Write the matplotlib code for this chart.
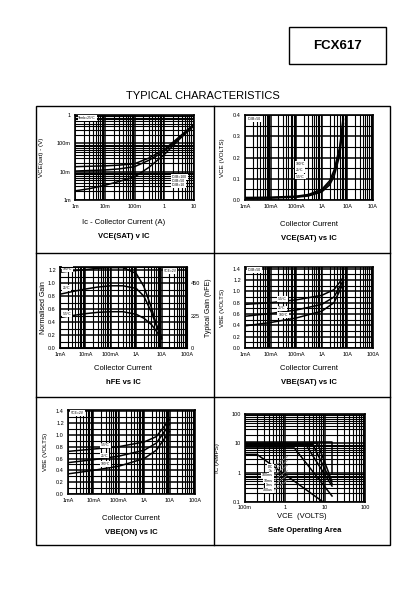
import matplotlib
matplotlib.use("Agg")
import matplotlib.pyplot as plt
from matplotlib.ticker import LogLocator, MultipleLocator, FixedLocator, NullFormatter
from matplotlib.lines import Line2D

plt.rcParams['font.family'] = ['Liberation Sans', 'DejaVu Sans']

W, H = 420, 595

# --- data ---
# VCE(SAT) v IC (log-log)
ic1 = [1e-3, 3e-3, 1e-2, 3e-2, 0.1, 0.3, 1, 3, 10]
vce1_100 = [15e-3, 15.5e-3, 16e-3, 17e-3, 19e-3, 30e-3, 60e-3, 160e-3, 480e-3]
vce1_50 = [10.5e-3, 11e-3, 11.5e-3, 12.5e-3, 15e-3, 25e-3, 52e-3, 145e-3, 450e-3]
vce1_10 = [2.1e-3, 2.5e-3, 3.3e-3, 4.5e-3, 6.5e-3, 14e-3, 40e-3, 130e-3, 420e-3]
labels1 = ["IC/IB=100", "IC/IB=50", "IC/IB=10"]

# VCE(SAT) vs IC (linear y)
ic2 = [1e-3, 1e-2, 0.1, 0.3, 1, 2, 3, 5, 7]
vce2_100 = [0.012, 0.013, 0.018, 0.026, 0.05, 0.09, 0.14, 0.25, 0.40]
vce2_25 = [0.010, 0.011, 0.015, 0.022, 0.044, 0.08, 0.125, 0.23, 0.38]
vce2_m55 = [0.008, 0.009, 0.013, 0.019, 0.038, 0.07, 0.11, 0.21, 0.36]
labels2 = ["100°C", "25°C", "-55°C"]

# hFE vs IC (normalised gain)
ic3 = [1e-3, 3e-3, 1e-2, 3e-2, 0.1, 0.3, 1, 2, 4, 6, 10]
hfe_100 = [1.17, 1.19, 1.21, 1.23, 1.24, 1.24, 1.15, 0.95, 0.62, 0.38, 0.15]
hfe_25 = [0.83, 0.87, 0.91, 0.94, 0.96, 0.96, 0.92, 0.80, 0.55, 0.36, 0.17]
hfe_m55 = [0.47, 0.50, 0.53, 0.55, 0.56, 0.56, 0.52, 0.46, 0.36, 0.27, 0.14]
labels3 = ["100°C", "25°C", "-55°C"]

# VBE(SAT) vs IC
ic4 = [1e-3, 1e-2, 0.1, 1, 3, 7]
vbes_m55 = [0.77, 0.80, 0.85, 0.93, 1.03, 1.25]
vbes_25 = [0.56, 0.61, 0.67, 0.77, 0.90, 1.20]
vbes_100 = [0.39, 0.45, 0.53, 0.65, 0.80, 1.15]
labels4 = ["-55°C", "25°C", "100°C"]

# VBE(ON) vs IC
ic5 = [1e-3, 1e-2, 0.1, 1, 3, 10]
vbeon_m55 = [0.72, 0.76, 0.80, 0.88, 0.97, 1.26]
vbeon_25 = [0.53, 0.58, 0.64, 0.74, 0.86, 1.18]
vbeon_100 = [0.34, 0.40, 0.47, 0.60, 0.74, 1.06]
labels5 = ["-55°C", "25°C", "100°C"]

# Safe operating area
soa_dc = ([0.1, 0.2, 9.0], [4.2, 4.2, 0.1])
soa_1s = ([0.1, 1.7, 15.0], [7.0, 7.0, 0.16])
soa_100ms = ([0.1, 3.5, 15.0], [8.0, 8.0, 0.35])
soa_10ms = ([0.1, 5.0, 15.0], [9.0, 9.0, 0.42])
soa_1ms = ([0.1, 6.5, 15.0], [10.0, 10.0, 0.5])
soa_100us = ([0.1, 15.0, 15.0], [11.0, 11.0, 1.0])
soa_labels = ["DC", "1s", "100ms", "10ms", "1ms", "100us"]
soa_label_y = [1.6, 1.17, 0.81, 0.53, 0.37, 0.25]

cur_ticks = [1e-3, 1e-2, 0.1, 1, 10, 100]
cur_labels = ["1mA", "10mA", "100mA", "1A", "10A", "100A"]

fig = plt.figure(figsize=(W / 100, H / 100), dpi=100)


def px_axes(x0, y0, x1, y1):
    return fig.add_axes([x0 / W, 1 - y1 / H, (x1 - x0) / W, (y1 - y0) / H])


def fig_text(x, y, s, **kw):
    fig.text(x / W, 1 - y / H, s, ha='center', va='center', **kw)


def style(ax):
    ax.grid(which='major', color='black', lw=1.1)
    ax.grid(which='minor', color='black', lw=0.8)
    ax.tick_params(which='both', length=0, labelsize=4, pad=3)
    for sp in ax.spines.values():
        sp.set_linewidth(1.2)
    ax.set_axisbelow(True)


def small_box(ax, x, y, s):
    ax.text(x, y, s, fontsize=2.4, va='center', ha='left',
            bbox=dict(facecolor='white', edgecolor='none', pad=0.6))


def current_xaxis(ax, labels=cur_labels):
    ax.set_xscale('log')
    ax.set_xlim(1e-3, 100)
    ax.xaxis.set_major_locator(FixedLocator(cur_ticks))
    ax.xaxis.set_minor_locator(LogLocator(subs=range(2, 10)))
    ax.xaxis.set_minor_formatter(NullFormatter())
    ax.set_xticklabels(labels)


# --- page furniture ---
fig.add_artist(plt.Rectangle((289 / W, 1 - 64 / H), 97 / W, 37 / H,
                             transform=fig.transFigure, fill=False, lw=1.0))
fig_text(337, 46, "FCX617", fontsize=9.5, fontweight='bold')
fig_text(203, 96, "TYPICAL CHARACTERISTICS", fontsize=8)
fig.add_artist(plt.Rectangle((35.5 / W, 1 - 545 / H), 354 / W, 439 / H,
                             transform=fig.transFigure, fill=False, lw=1.0))
fig.add_artist(Line2D([213.7 / W, 213.7 / W], [1 - 106 / H, 1 - 545 / H], color='black', lw=1.0))
for yy in (252.7, 397.3):
    fig.add_artist(Line2D([35.5 / W, 389.5 / W], [1 - yy / H, 1 - yy / H], color='black', lw=1.0))

# --- VCE(SAT) v IC ---
ax = px_axes(75, 115, 194, 200)
ax.set_xscale('log')
ax.set_yscale('log')
ax.set_xlim(1e-3, 10)
ax.set_ylim(1e-3, 1)
for ys in (vce1_100, vce1_50, vce1_10):
    ax.plot(ic1, ys, color='black', lw=1.1)
ax.xaxis.set_major_locator(FixedLocator([1e-3, 1e-2, 0.1, 1, 10]))
ax.set_xticklabels(["1m", "10m", "100m", "1", "10"])
ax.yaxis.set_major_locator(FixedLocator([1e-3, 1e-2, 0.1, 1]))
ax.set_yticklabels(["1m", "10m", "100m", "1"])
for a in (ax.xaxis, ax.yaxis):
    a.set_minor_locator(LogLocator(subs=range(2, 10)))
    a.set_minor_formatter(NullFormatter())
style(ax)
small_box(ax, 1.3e-3, 0.8, "Tamb=25°C")
for s, yv in zip(labels1, [6.6e-3, 4.8e-3, 3.4e-3]):
    small_box(ax, 1.8, yv, s)
ax.set_ylabel("VCE(sat) - (V)", fontsize=4.5, labelpad=9)
fig_text(124, 222, "Ic - Collector Current (A)", fontsize=5.5)
fig_text(124, 237, "VCE(SAT) v IC", fontsize=5.5, fontweight='bold')

# --- VCE(SAT) vs IC ---
ax = px_axes(245, 115, 373, 200)
for ys in (vce2_100, vce2_25, vce2_m55):
    ax.plot(ic2, ys, color='black', lw=1.1)
current_xaxis(ax, ["1mA", "10mA", "100mA", "1A", "10A", "10A"])
ax.set_ylim(0, 0.4)
ax.yaxis.set_major_locator(MultipleLocator(0.1))
ax.yaxis.set_minor_locator(MultipleLocator(0.05))
ax.yaxis.set_major_formatter(plt.FormatStrFormatter('%.1f'))
style(ax)
small_box(ax, 1.3e-3, 0.38, "IC/IB=50")
for s, yv in zip(labels2, [0.17, 0.14, 0.11]):
    small_box(ax, 0.1, yv, s)
ax.set_ylabel("VCE (VOLTS)", fontsize=4.5, labelpad=6)
fig_text(309, 225, "Collector Current", fontsize=5.5)
fig_text(309, 238, "VCE(SAT) vs IC", fontsize=5.5, fontweight='bold')

# --- hFE vs IC ---
ax = px_axes(60, 267, 187, 348)
for ys in (hfe_100, hfe_25, hfe_m55):
    ax.plot(ic3, ys, color='black', lw=1.1)
current_xaxis(ax)
ax.set_ylim(0, 1.25)
ax.yaxis.set_major_locator(MultipleLocator(0.2))
ax.yaxis.set_minor_locator(MultipleLocator(0.1))
ax.yaxis.set_major_formatter(plt.FormatStrFormatter('%.1f'))
style(ax)
small_box(ax, 1.3e-3, 1.22, labels3[0])
small_box(ax, 1.3e-3, 0.93, labels3[1])
small_box(ax, 1.3e-3, 0.52, labels3[2])
small_box(ax, 12, 1.19, "VCE=2V")
ax.set_ylabel("Normalised Gain", fontsize=5, labelpad=1)
ax2 = ax.twinx()
ax2.set_ylim(0, 1.25 * 450)
ax2.yaxis.set_major_locator(FixedLocator([0, 225, 450]))
ax2.tick_params(length=0, labelsize=4, pad=3)
ax2.set_ylabel("Typical Gain (hFE)", fontsize=5, labelpad=3)
fig_text(123, 368, "Collector Current", fontsize=5.5)
fig_text(123, 383, "hFE vs IC", fontsize=5.5, fontweight='bold')

# --- VBE(SAT) vs IC ---
ax = px_axes(245, 267, 373, 348)
for ys in (vbes_m55, vbes_25, vbes_100):
    ax.plot(ic4, ys, color='black', lw=1.1)
current_xaxis(ax)
ax.set_ylim(0, 1.43)
ax.yaxis.set_major_locator(MultipleLocator(0.2))
ax.yaxis.set_minor_locator(MultipleLocator(0.1))
ax.yaxis.set_major_formatter(plt.FormatStrFormatter('%.1f'))
style(ax)
small_box(ax, 1.3e-3, 1.38, "IC/IB=50")
for s, yv in zip(labels4, [0.86, 0.70, 0.58]):
    small_box(ax, 0.02, yv, s)
ax.set_ylabel("VBE (VOLTS)", fontsize=4.5, labelpad=6)
fig_text(309, 368, "Collector Current", fontsize=5.5)
fig_text(309, 383, "VBE(SAT) vs IC", fontsize=5.5, fontweight='bold')

# --- VBE(ON) vs IC ---
ax = px_axes(68, 410, 195, 494)
for ys in (vbeon_m55, vbeon_25, vbeon_100):
    ax.plot(ic5, ys, color='black', lw=1.1)
current_xaxis(ax)
ax.set_ylim(0, 1.42)
ax.yaxis.set_major_locator(MultipleLocator(0.2))
ax.yaxis.set_minor_locator(MultipleLocator(0.1))
ax.yaxis.set_major_formatter(plt.FormatStrFormatter('%.1f'))
style(ax)
small_box(ax, 1.3e-3, 1.37, "VCE=2V")
for s, yv in zip(labels5, [0.82, 0.65, 0.51]):
    small_box(ax, 0.02, yv, s)
ax.set_ylabel("VBE (VOLTS)", fontsize=4.5, labelpad=6)
fig_text(131, 518, "Collector Current", fontsize=5.5)
fig_text(131, 532, "VBE(ON) vs IC", fontsize=5.5, fontweight='bold')

# --- Safe Operating Area ---
ax = px_axes(245, 414, 365, 502)
ax.set_xscale('log')
ax.set_yscale('log')
ax.set_xlim(0.1, 100)
ax.set_ylim(0.1, 100)
for xs, ys in (soa_dc, soa_1s, soa_100ms, soa_10ms, soa_1ms, soa_100us):
    ax.plot(xs, ys, color='black', lw=1.1)
ax.xaxis.set_major_locator(FixedLocator([0.1, 1, 10, 100]))
ax.set_xticklabels(["100m", "1", "10", "100"])
ax.yaxis.set_major_locator(FixedLocator([0.1, 1, 10, 100]))
ax.set_yticklabels(["0.1", "1", "10", "100"])
for a in (ax.xaxis, ax.yaxis):
    a.set_minor_locator(LogLocator(subs=range(2, 10)))
    a.set_minor_formatter(NullFormatter())
style(ax)
ax.tick_params(axis='x', pad=2)
for s, yv in zip(soa_labels, soa_label_y):
    ax.text(0.5, yv, s, fontsize=2.6, ha='right', va='center',
            bbox=dict(facecolor='white', edgecolor='none', pad=0.4))
    ax.plot([0.52, 0.52 * 2.2], [yv, yv * 2.2], color='0.5', lw=0.5)
ax.set_ylabel("IC (AMPS)", fontsize=4.5, labelpad=8)
fig_text(302, 517, "VCE  (VOLTS)", fontsize=5.5)
fig_text(305, 531, "Safe Operating Area", fontsize=5.5, fontweight='bold')

fig.savefig("out.png", dpi=100)
